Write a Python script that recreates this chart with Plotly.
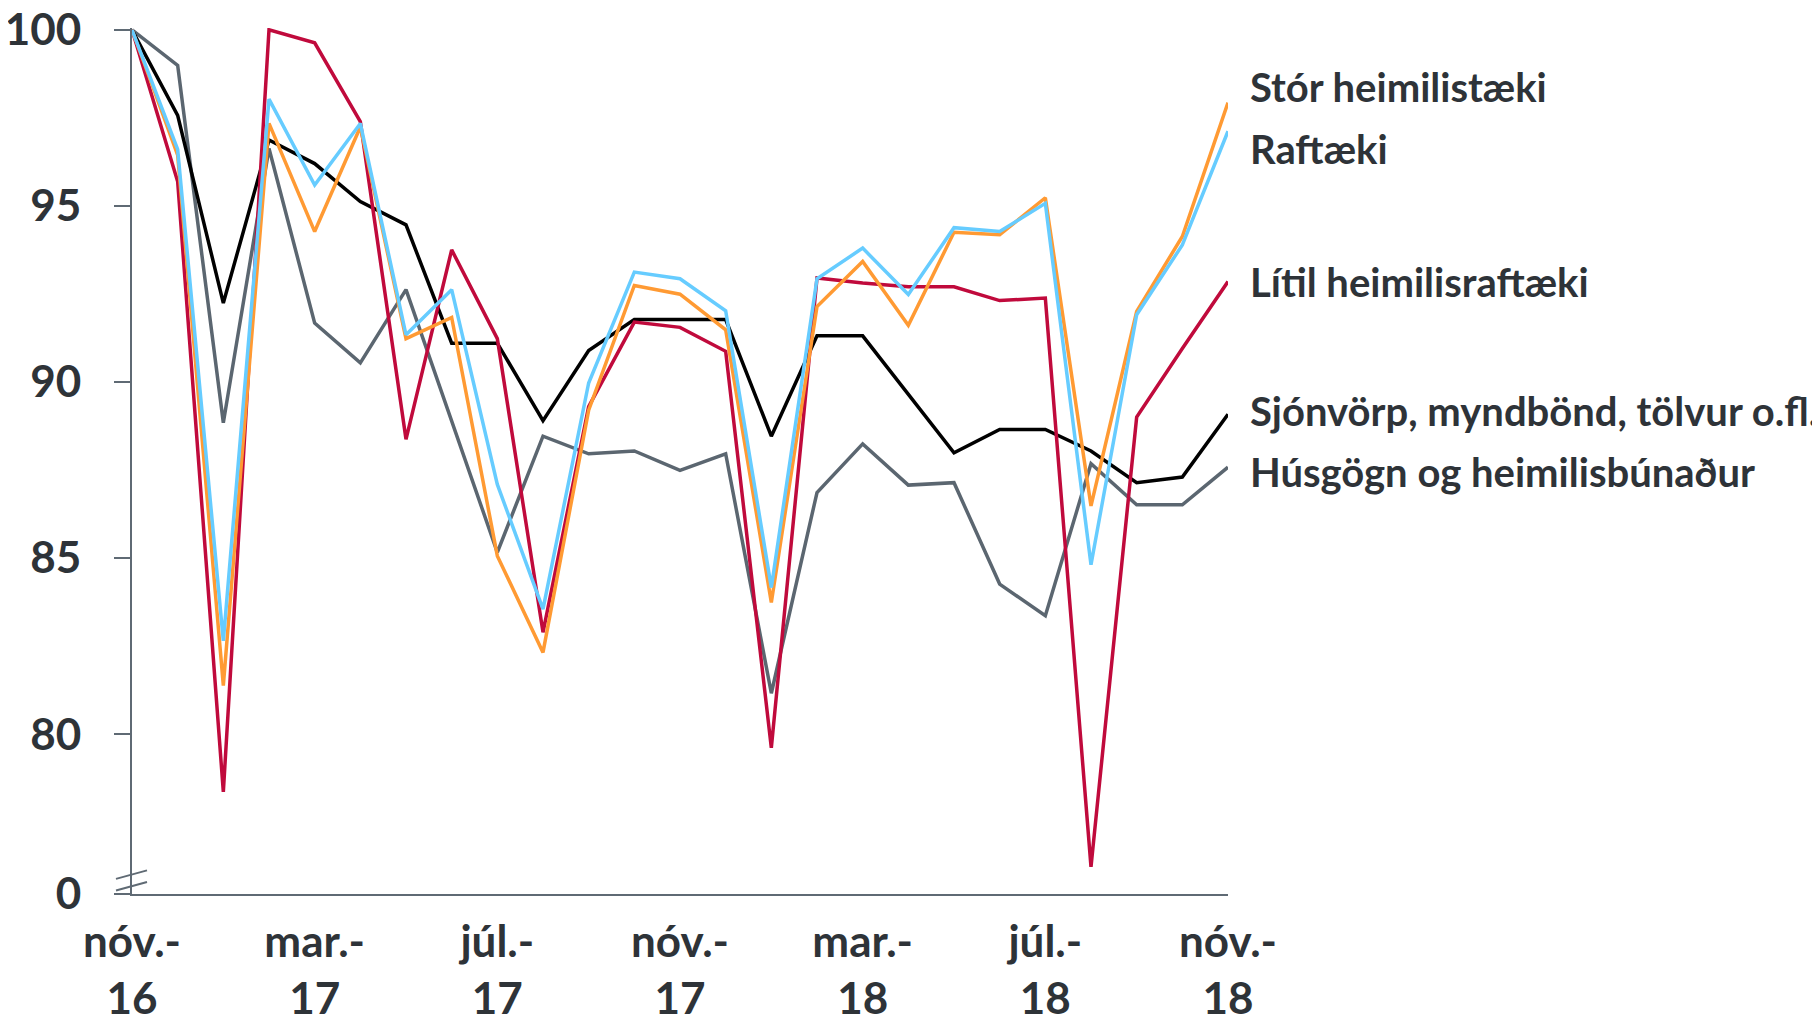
import plotly.graph_objects as go

months = ["nóv.-16", "des.-16", "jan.-17", "feb.-17", "mar.-17", "apr.-17", "maí.-17", "jún.-17",
          "júl.-17", "ágú.-17", "sep.-17", "okt.-17", "nóv.-17", "des.-17", "jan.-18", "feb.-18",
          "mar.-18", "apr.-18", "maí.-18", "jún.-18", "júl.-18", "ágú.-18", "sep.-18", "okt.-18", "nóv.-18"]

stor = [100, 96.44, 81.38, 97.34, 94.27, 97.24, 91.23, 91.83, 85.06, 82.32, 89.2, 92.74, 92.49,
        91.48, 83.74, 92.14, 93.42, 91.61, 94.25, 94.18, 95.23, 86.48, 92.00, 94.13, 97.93]
raftaeki = [100, 96.6, 82.65, 98.03, 95.59, 97.34, 91.34, 92.62, 87.09, 83.55, 89.97, 93.12, 92.93,
            92.02, 84.16, 92.93, 93.80, 92.48, 94.38, 94.27, 95.07, 84.81, 91.91, 93.89, 97.12]
litil = [100, 95.69, 78.36, 100, 99.63, 97.39, 88.37, 93.75, 91.23, 82.89, 89.3, 91.70, 91.55,
         90.87, 79.61, 92.95, 92.81, 92.70, 92.70, 92.31, 92.38, 76.23, 89.00, 90.95, 92.85]
sjonvorp = [100, 97.57, 92.24, 96.87, 96.20, 95.12, 94.46, 91.10, 91.10, 88.9, 90.89, 91.77, 91.77,
            91.77, 88.46, 91.31, 91.31, 89.65, 87.99, 88.65, 88.65, 88.04, 87.14, 87.30, 89.08]
husgogn = [100, 98.99, 88.84, 96.63, 91.67, 90.54, 92.62, 88.9, 85.16, 88.46, 87.96, 88.04, 87.49,
           87.96, 81.16, 86.86, 88.24, 87.07, 87.14, 84.26, 83.36, 87.68, 86.51, 86.51, 87.58]

series_names = ["Stór heimilistæki", "Raftæki", "Lítil heimilisraftæki",
                "Sjónvörp, myndbönd, tölvur o.fl.", "Húsgögn og heimilisbúnaður"]
series_vals = [stor, raftaeki, litil, sjonvorp, husgogn]
colors = ["#FF9A33", "#66CCFF", "#C00A3C", "#000000", "#5B6670"]
label_y = [98.38, 96.62, 92.85, 89.17, 87.44]

tick_idx = [0, 4, 8, 12, 16, 20, 24]
tick_text = ["nóv.-<br>16", "mar.-<br>17", "júl.-<br>17", "nóv.-<br>17", "mar.-<br>18", "júl.-<br>18", "nóv.-<br>18"]

y_bottom = 75.46
y_ticks = [y_bottom, 80, 85, 90, 95, 100]
y_ticktext = ["0", "80", "85", "90", "95", "100"]

FONT = "Lato"
TXT = "#2E3338"
AX = "#5F6A74"

fig = go.Figure()
order = [4, 3, 2, 0, 1]
for i in order:
    fig.add_trace(go.Scatter(
        x=list(range(len(months))), y=series_vals[i], mode="lines", name=series_names[i],
        line=dict(color=colors[i], width=3.5), hoverinfo="x+y+name", showlegend=False,
        text=months))

for name, ly in zip(series_names, label_y):
    fig.add_annotation(x=len(months) - 1, y=ly, xref="x", yref="y", text="<b>" + name + "</b>",
                       showarrow=False, xanchor="left", yanchor="middle", xshift=20,
                       font=dict(family=FONT, size=40, color=TXT))

# axis break marks
for dy in (0.0, 0.33):
    fig.add_shape(type="line", xref="paper", yref="y",
                  x0=-0.0146, x1=0.0137, y0=y_bottom + 0.43 - dy, y1=y_bottom + 0.67 - dy,
                  line=dict(color=AX, width=2))

fig.update_layout(
    width=1820, height=1018,
    margin=dict(l=124, r=600, t=20, b=132),
    paper_bgcolor="white", plot_bgcolor="white",
    font=dict(family=FONT, size=40, color=TXT),
    xaxis=dict(range=[0, 24], tickmode="array", tickvals=tick_idx, ticktext=tick_text,
               showgrid=False, zeroline=False, showline=True, linecolor=AX, linewidth=2,
               ticks="", automargin=False, ticklabelstandoff=8, ticklabeloverflow="allow",
               tickfont=dict(family=FONT, size=44, color=TXT, weight="bold")),
    yaxis=dict(range=[y_bottom, 100.05], tickmode="array", tickvals=y_ticks, ticktext=y_ticktext,
               showgrid=False, zeroline=False, showline=True, linecolor=AX, linewidth=2,
               ticks="outside", ticklen=16, tickwidth=2, tickcolor=AX, automargin=False,
               ticklabelstandoff=24, ticklabeloverflow="allow",
               tickfont=dict(family=FONT, size=44, color=TXT, weight="bold")),
)

fig.write_html("out.html")
